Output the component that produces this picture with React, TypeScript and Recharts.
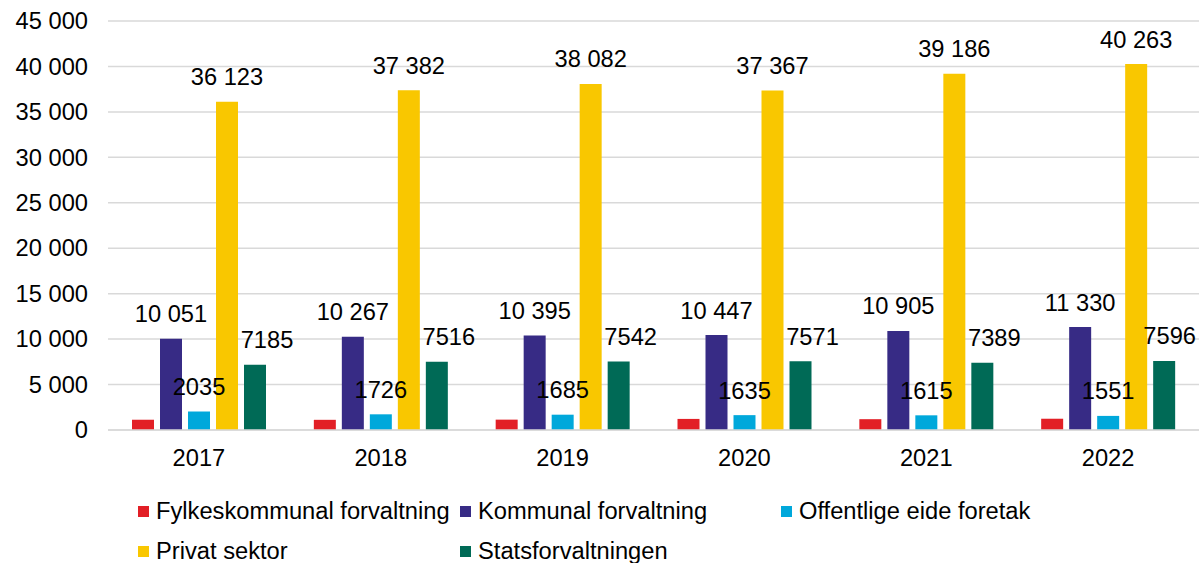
import { Bar, BarChart, CartesianGrid, LabelList, Legend, XAxis, YAxis } from 'recharts'

const years = ['2017', '2018', '2019', '2020', '2021', '2022']
const fylkeskommunal = [1130, 1120, 1140, 1220, 1190, 1240]
const kommunal = [10051, 10267, 10395, 10447, 10905, 11330]
const offentlige = [2035, 1726, 1685, 1635, 1615, 1551]
const privat = [36123, 37382, 38082, 37367, 39186, 40263]
const stat = [7185, 7516, 7542, 7571, 7389, 7596]
const yTicks = [0, 5000, 10000, 15000, 20000, 25000, 30000, 35000, 40000, 45000]

const series = [
    { key: 'fylke', name: 'Fylkeskommunal forvaltning', color: '#e21f26', values: fylkeskommunal, label: false, dx: 0 },
    { key: 'kommunal', name: 'Kommunal forvaltning', color: '#372b85', values: kommunal, label: true, dx: 0 },
    { key: 'offentlige', name: 'Offentlige eide foretak', color: '#00a8db', values: offentlige, label: true, dx: 0 },
    { key: 'privat', name: 'Privat sektor', color: '#f9c700', values: privat, label: true, dx: 0 },
    { key: 'stat', name: 'Statsforvaltningen', color: '#006a56', values: stat, label: true, dx: 12 },
]

const data = years.map((year, i) => {
    const row: any = { year }
    series.forEach(s => { row[s.key] = s.values[i] })
    return row
})

const chartWidth = 1199
const font = '"Liberation Sans", Arial, sans-serif'
const fontSize = 23
// the reference text is drawn a touch wider than plain Arial
const stretch = 1.03

// thousands get a space only from five digits (labels); ticks always grouped
const fmtLabel = (v: number) =>
    v >= 10000 ? String(v).replace(/\B(?=(\d{3})+(?!\d))/g, ' ') : String(v)
const fmtTick = (v: number) => String(v).replace(/\B(?=(\d{3})+(?!\d))/g, ' ')

const WideText = ({ x, y, anchor, dy, children }: any) => (
    <text
        transform={`translate(${x},${y}) scale(${stretch},1)`}
        textAnchor={anchor}
        dy={dy}
        fill='#000'
        fontSize={fontSize}
        fontFamily={font}
    >
        {children}
    </text>
)

const YTick = ({ x, y, payload }: any) => (
    <WideText x={x} y={y} anchor='end' dy='0.355em'>{fmtTick(payload.value)}</WideText>
)

const XTick = ({ x, y, payload }: any) => (
    <WideText x={x} y={y} anchor='middle' dy='0.71em'>{payload.value}</WideText>
)

const makeLabel = (dx: number) => (props: any) => {
    const { x, y, width, value } = props
    const text = fmtLabel(Number(value))
    // rough half width so the label never runs past the right edge
    const half = text.length * 0.556 * fontSize * stretch / 2
    const cx = Math.min(Number(x) + Number(width) / 2 + dx, chartWidth - half - 3)
    return (
        <WideText x={cx} y={Number(y) - 16.5} anchor='middle' dy={0}>
            {text}
        </WideText>
    )
}

const renderLegend = () => (
    <div style={{
        display: 'grid',
        gridTemplateColumns: '322px 321px auto',
        gridAutoRows: '40px',
        paddingLeft: 138,
        fontFamily: font,
        fontSize,
        color: '#000',
    }}>
        {series.map(s => (
            <div key={s.key} style={{ display: 'flex', alignItems: 'center', whiteSpace: 'nowrap' }}>
                <span style={{ width: 11, height: 11, background: s.color, marginRight: 7, display: 'inline-block', flex: 'none' }} />
                <span style={{ display: 'inline-block', transform: `scaleX(${stretch})`, transformOrigin: 'left center' }}>{s.name}</span>
            </div>
        ))}
    </div>
)

const App = () => {
    return (
        <div style={{ position: 'absolute', left: 0, top: 0, background: '#fff' }}>
            <BarChart
                width={chartWidth}
                height={563}
                data={data}
                margin={{ top: 21, right: 0, bottom: 103, left: 0 }}
                barGap={6}
                barSize={22}
            >
                <CartesianGrid vertical={false} stroke='#d9d9d9' strokeWidth={1.5} />
                <XAxis
                    dataKey='year'
                    height={30}
                    stroke='#d9d9d9'
                    strokeWidth={1.5}
                    tickLine={false}
                    tickMargin={14}
                    tick={<XTick />}
                />
                <YAxis
                    width={108}
                    domain={[0, 45000]}
                    ticks={yTicks}
                    axisLine={false}
                    tickLine={false}
                    tickMargin={14}
                    tick={<YTick />}
                />
                <Legend
                    layout='vertical'
                    align='center'
                    verticalAlign='middle'
                    content={renderLegend}
                    wrapperStyle={{ left: 0, top: 491, width: chartWidth }}
                />
                {series.map(s => (
                    <Bar key={s.key} dataKey={s.key} name={s.name} fill={s.color} isAnimationActive={false}>
                        {s.label && <LabelList dataKey={s.key} content={makeLabel(s.dx)} />}
                    </Bar>
                ))}
            </BarChart>
        </div>
    )
}

export default App
